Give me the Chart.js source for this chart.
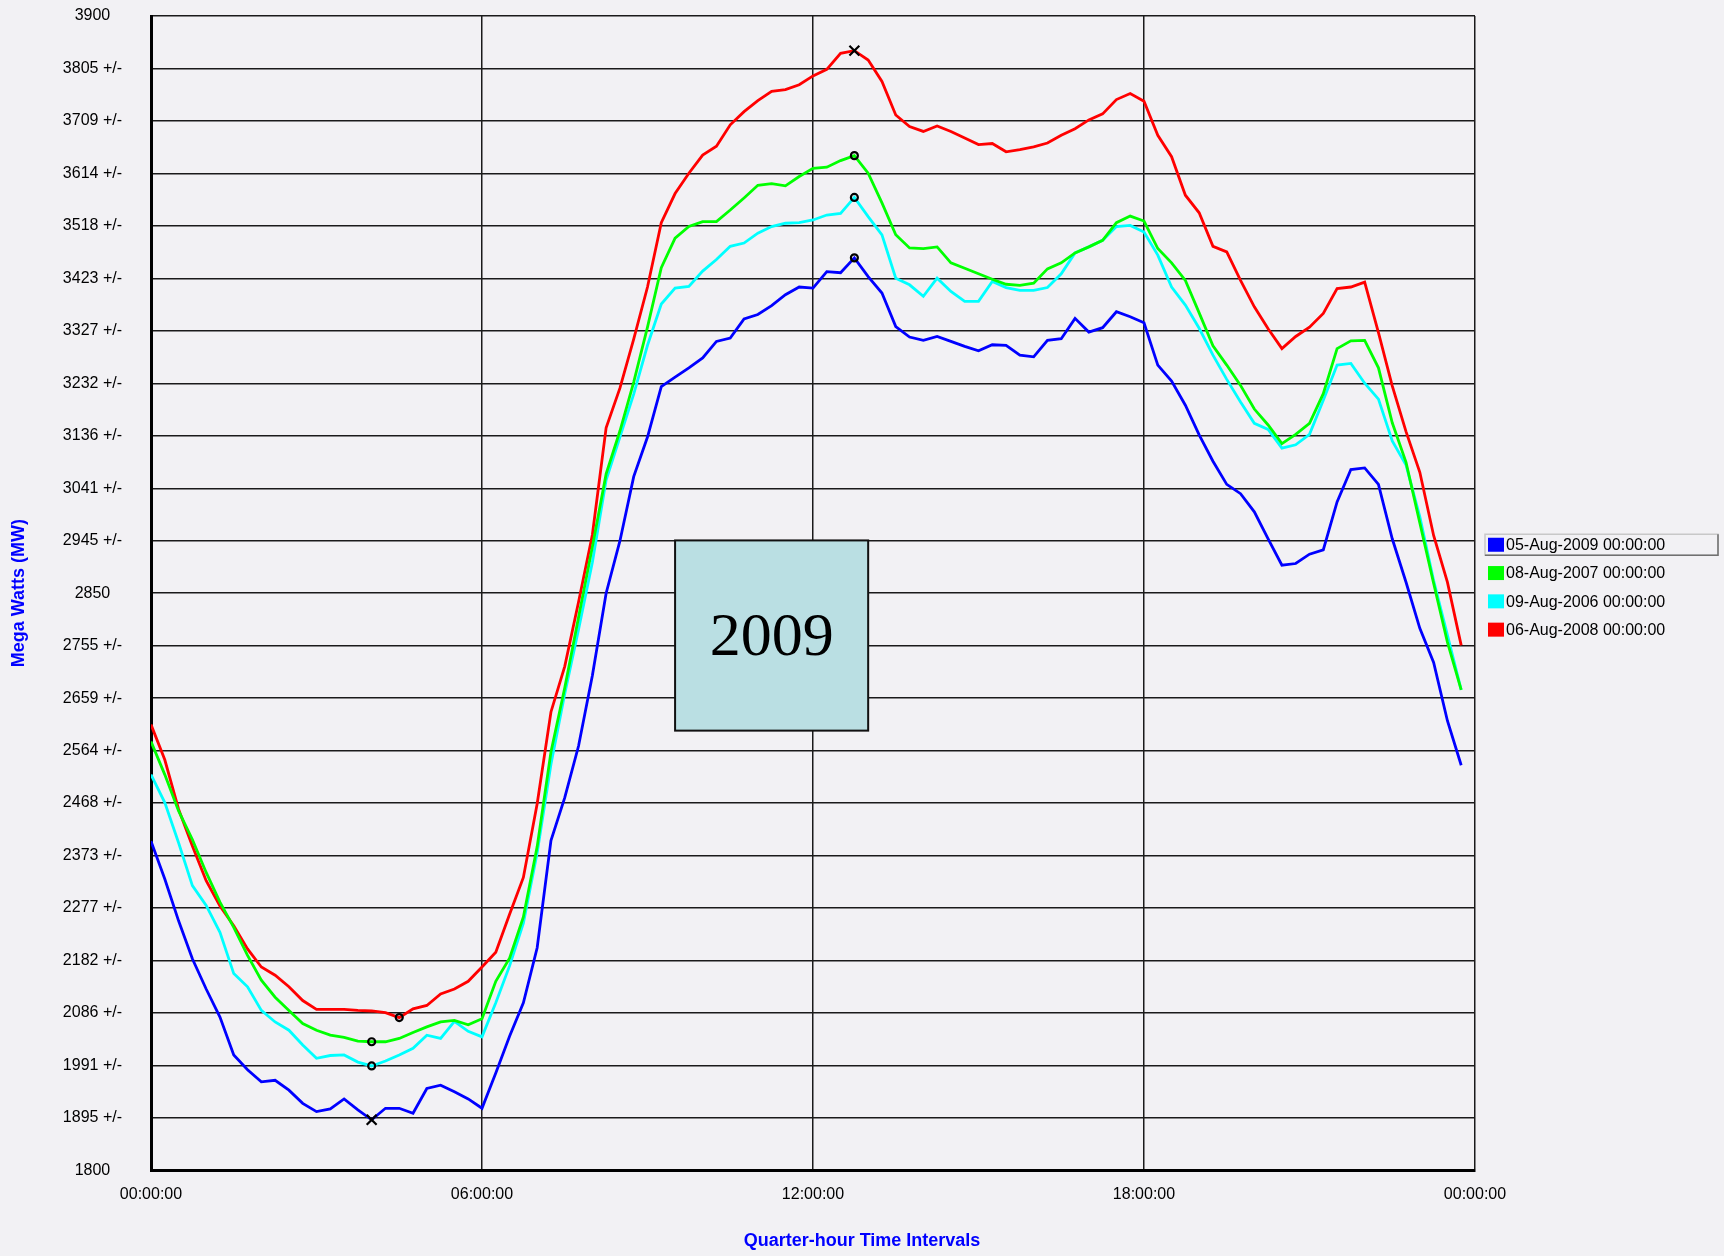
<!DOCTYPE html>
<html>
<head>
<meta charset="utf-8">
<title>Quarter-hour load profile</title>
<script src="https://cdn.jsdelivr.net/npm/chart.js@4.4.0/dist/chart.umd.min.js"></script>
<style>
  html, body { margin: 0; padding: 0; background: #f2f1f4; }
  canvas { display: block; }
</style>
</head>
<body>
<canvas id="loadChart" width="1724" height="1256"></canvas>
<script>
// Load per quarter-hour (index 0 = 00:00, 95 = 23:45), MW
const seriesLabels = ['05-Aug-2009 00:00:00', '08-Aug-2007 00:00:00', '09-Aug-2006 00:00:00', '06-Aug-2008 00:00:00'];
const seriesColors = ['#0000ff', '#00ff00', '#00ffff', '#ff0000'];

const load2009 = [
    2399, 2330, 2254, 2185, 2130, 2079, 2010, 1983, 1961, 1964, 1946, 1922,
    1907, 1912, 1930, 1910, 1892, 1913, 1913, 1904, 1949, 1955, 1943, 1930,
    1913, 1977, 2044, 2105, 2205, 2400, 2478, 2572, 2700, 2850, 2945, 3062,
    3134, 3226, 3243, 3260, 3278, 3308, 3314, 3349, 3357, 3373, 3393, 3407,
    3405, 3435, 3433, 3460, 3426, 3396, 3335, 3316, 3310, 3317, 3308, 3299,
    3291, 3302, 3301, 3283, 3280, 3310, 3313, 3350, 3325, 3333, 3362, 3353,
    3342, 3265, 3236, 3192, 3138, 3090, 3048, 3031, 2998, 2949, 2901, 2904,
    2921, 2929, 3016, 3075, 3078, 3048, 2949, 2870, 2786, 2724, 2618, 2537
];
const load2007 = [
    2580, 2520, 2454, 2402, 2342, 2288, 2242, 2191, 2146, 2115, 2091, 2067,
    2055, 2046, 2042, 2035, 2034, 2034, 2040, 2051, 2061, 2070, 2073, 2065,
    2076, 2144, 2186, 2261, 2389, 2561, 2678, 2806, 2934, 3067, 3145, 3234,
    3334, 3442, 3496, 3517, 3526, 3526, 3547, 3569, 3592, 3595, 3591, 3608,
    3623, 3625, 3637, 3646, 3614, 3560, 3502, 3478, 3477, 3480, 3451, 3441,
    3431, 3421, 3412, 3410, 3414, 3440, 3451, 3469, 3480, 3492, 3524, 3536,
    3527, 3477, 3451, 3419, 3360, 3300, 3265, 3228, 3185, 3156, 3122, 3139,
    3159, 3213, 3295, 3309, 3310, 3260, 3160, 3088, 2978, 2868, 2761, 2674
];
const load2006 = [
    2520, 2469, 2396, 2318, 2282, 2233, 2158, 2134, 2091, 2070, 2055, 2028,
    2004, 2009, 2010, 1997, 1990, 1999, 2010, 2022, 2046, 2040, 2071, 2053,
    2043, 2105, 2172, 2250, 2378, 2539, 2667, 2784, 2906, 3056, 3134, 3212,
    3301, 3376, 3405, 3408, 3436, 3457, 3481, 3487, 3505, 3517, 3523, 3524,
    3529, 3538, 3541, 3570, 3535, 3502, 3423, 3411, 3390, 3423, 3399, 3381,
    3381, 3417, 3406, 3401, 3401, 3406, 3431, 3469, 3480, 3492, 3517, 3519,
    3507, 3465, 3407, 3374, 3332, 3283, 3239, 3198, 3159, 3148, 3114, 3120,
    3139, 3201, 3265, 3268, 3232, 3203, 3127, 3083, 2989, 2873, 2774, 2674
];
const load2008 = [
    2611, 2547, 2457, 2390, 2327, 2281, 2245, 2203, 2170, 2155, 2134, 2109,
    2093, 2093, 2093, 2091, 2090, 2087, 2078, 2094, 2100, 2121, 2130, 2144,
    2170, 2197, 2266, 2333, 2467, 2634, 2717, 2834, 2956, 3151, 3223, 3312,
    3407, 3524, 3577, 3614, 3647, 3663, 3702, 3726, 3746, 3763, 3766, 3775,
    3791, 3803, 3832, 3837, 3820, 3781, 3720, 3699, 3690, 3700, 3690, 3678,
    3666, 3668, 3653, 3657, 3662, 3669, 3683, 3695, 3711, 3722, 3748, 3759,
    3745, 3683, 3644, 3574, 3542, 3481, 3471, 3419, 3371, 3331, 3295, 3317,
    3334, 3359, 3404, 3407, 3416, 3324, 3227, 3144, 3070, 2955, 2870, 2755
];

const xTickLabels = ['00:00:00', '06:00:00', '12:00:00', '18:00:00', '00:00:00'];
const yTickLabels = [
    '1800', '1895 +/-', '1991 +/-', '2086 +/-', '2182 +/-', '2277 +/-', '2373 +/-',
    '2468 +/-', '2564 +/-', '2659 +/-', '2755 +/-', '2850', '2945 +/-', '3041 +/-',
    '3136 +/-', '3232 +/-', '3327 +/-', '3423 +/-', '3518 +/-', '3614 +/-', '3709 +/-',
    '3805 +/-', '3900'
];
const yMin = 1800;
const yMax = 3900;
const quartersPerDay = 96;

const allSeries = [load2009, load2007, load2006, load2008];
const globalMax = Math.max(...allSeries.flat());
const globalMin = Math.min(...allSeries.flat());

// Mark each day's peak and valley; the overall extremes get a cross
function markers(values) {
    const maxI = values.indexOf(Math.max(...values));
    const minI = values.indexOf(Math.min(...values));
    const isCross = v => v === globalMax || v === globalMin;
    return {
        radius: values.map((v, i) => (i === maxI || i === minI) ? (isCross(v) ? 7 : 3.5) : 0),
        style: values.map(v => isCross(v) ? 'crossRot' : 'circle')
    };
}

const datasets = allSeries.map((values, k) => {
    const m = markers(values);
    return {
        label: seriesLabels[k],
        data: values.map((v, i) => ({ x: i, y: v })),
        yAxisID: 'y',
        borderColor: seriesColors[k],
        backgroundColor: seriesColors[k],
        borderWidth: 2.8,
        tension: 0,
        fill: false,
        pointRadius: m.radius,
        pointStyle: m.style,
        pointBorderColor: '#000000',
        pointBackgroundColor: 'rgba(0,0,0,0)',
        pointBorderWidth: 2.2
    };
});

// Background, the "2009" note and the legend
const decorPlugin = {
    id: 'decor',
    beforeDraw(chart) {
        const ctx = chart.ctx;
        ctx.save();
        ctx.fillStyle = '#f2f1f4';
        ctx.fillRect(0, 0, chart.width, chart.height);
        ctx.restore();
    },
    afterDatasetsDraw(chart) {
        const ctx = chart.ctx;
        const xs = chart.scales.x;
        const ys = chart.scales.y;
        // note box sits between 09:30 and 13:00
        const left = xs.getPixelForValue(38);
        const right = xs.getPixelForValue(52);
        const top = ys.getPixelForValue(2946);
        const bottom = ys.getPixelForValue(2600);
        ctx.save();
        ctx.fillStyle = '#badfe3';
        ctx.fillRect(left, top, right - left, bottom - top);
        ctx.strokeStyle = '#111111';
        ctx.lineWidth = 2;
        ctx.strokeRect(left, top, right - left, bottom - top);
        ctx.fillStyle = '#000000';
        ctx.font = '62px "Liberation Serif", "Times New Roman", serif';
        ctx.textAlign = 'center';
        ctx.textBaseline = 'middle';
        ctx.fillText('2009', (left + right) / 2, (top + bottom) / 2 + 3);
        ctx.restore();
    },
    afterDraw(chart) {
        const ctx = chart.ctx;
        const area = chart.chartArea;
        const rowH = 28.3;
        const x0 = area.right + 13;
        const yc0 = (area.top + area.bottom) / 2 - 1.5 * rowH - 6;
        ctx.save();
        ctx.font = '16px "Liberation Sans", Arial, sans-serif';
        ctx.textBaseline = 'middle';
        ctx.textAlign = 'left';
        chart.data.datasets.forEach((ds, k) => {
            const yc = yc0 + k * rowH;
            if (k === 0) {
                // highlighted first entry
                ctx.lineWidth = 1.5;
                ctx.strokeStyle = '#c8c8c8';
                ctx.strokeRect(x0 - 3, yc - 10.5, 233, 21);
                ctx.strokeStyle = '#707070';
                ctx.beginPath();
                ctx.moveTo(x0 + 230, yc - 10.5);
                ctx.lineTo(x0 + 230, yc + 10.5);
                ctx.lineTo(x0 - 3, yc + 10.5);
                ctx.stroke();
            }
            ctx.fillStyle = ds.borderColor;
            ctx.fillRect(x0, yc - 7, 16, 14);
            ctx.fillStyle = '#000000';
            ctx.fillText(ds.label, x0 + 18, yc + 1);
        });
        ctx.restore();
    }
};

Chart.defaults.font.family = '"Liberation Sans", Arial, sans-serif';
Chart.defaults.color = '#000000';

const ctx = document.getElementById('loadChart').getContext('2d');
new Chart(ctx, {
    type: 'line',
    data: { datasets: datasets },
    plugins: [decorPlugin],
    options: {
        responsive: false,
        animation: false,
        devicePixelRatio: 1,
        layout: { padding: { top: 16, left: 0, right: 0, bottom: 0 } },
        plugins: {
            legend: { display: false },
            tooltip: { enabled: false },
            title: {
                display: true,
                position: 'bottom',
                text: 'Quarter-hour Time Intervals',
                color: '#0000ff',
                font: { size: 18, weight: 'bold' },
                padding: { top: 0, bottom: 4 }
            }
        },
        scales: {
            x: {
                type: 'linear',
                min: 0,
                max: quartersPerDay,
                afterBuildTicks: scale => {
                    scale.ticks = xTickLabels.map((_, k) => ({ value: k * quartersPerDay / (xTickLabels.length - 1) }));
                },
                afterFit: scale => {
                    scale.height = 60;
                    scale.paddingLeft = 0;
                    scale.paddingRight = 0;
                },
                ticks: {
                    padding: 15,
                    maxRotation: 0,
                    autoSkip: false,
                    font: { size: 16 },
                    callback: (value, index) => xTickLabels[index]
                },
                grid: { color: '#1a1a1a', lineWidth: 1.5, drawTicks: false },
                border: { color: '#000000', width: 3 }
            },
            y: {
                type: 'linear',
                position: 'left',
                min: yMin,
                max: yMax,
                afterBuildTicks: scale => {
                    scale.ticks = yTickLabels.map((_, k) => ({ value: yMin + k * (yMax - yMin) / (yTickLabels.length - 1) }));
                },
                afterFit: scale => {
                    scale.width = 151;
                    scale.paddingTop = 0;
                    scale.paddingBottom = 0;
                },
                ticks: {
                    padding: 29,
                    crossAlign: 'center',
                    autoSkip: false,
                    font: { size: 16 },
                    callback: (value, index) => yTickLabels[index]
                },
                grid: { color: '#1a1a1a', lineWidth: 1.5, drawTicks: false },
                border: { color: '#000000', width: 3 },
                title: {
                    display: true,
                    text: 'Mega Watts (MW)',
                    color: '#0000ff',
                    font: { size: 18, weight: 'bold' },
                    padding: { top: 8, bottom: 0 }
                }
            },
            // empty axis that keeps room for the legend on the right
            legendSpace: {
                type: 'linear',
                position: 'right',
                display: true,
                afterFit: scale => {
                    scale.width = 249;
                    scale.paddingTop = 0;
                    scale.paddingBottom = 0;
                },
                ticks: { display: false },
                grid: { display: false, drawTicks: false },
                border: { display: false }
            }
        }
    }
});
</script>
</body>
</html>
